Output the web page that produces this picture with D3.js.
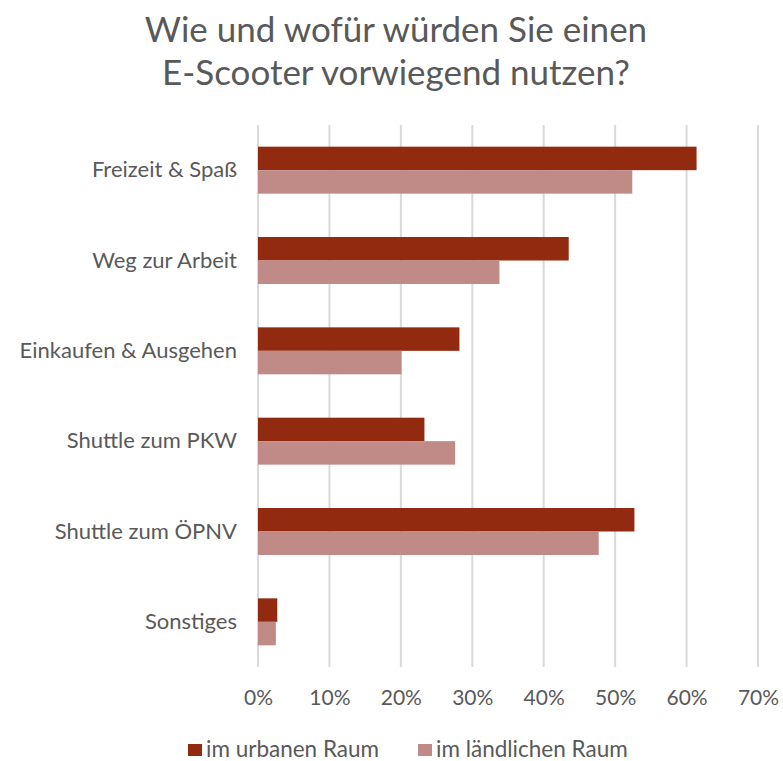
<!DOCTYPE html>
<html>
<head>
<meta charset="utf-8">
<script src="https://cdn.jsdelivr.net/npm/d3@7"></script>
<style>
    body { margin: 0; background: #fff; }
    svg text { font-family: Lato, "Open Sans", sans-serif; fill: #595959; }
</style>
</head>
<body>
<div id="chart"></div>
<script>
(function () {
    'use strict';

    let categories = ['Freizeit & Spaß', 'Weg zur Arbeit', 'Einkaufen & Ausgehen',
        'Shuttle zum PKW', 'Shuttle zum ÖPNV', 'Sonstiges'];
    let seriesNames = ['im urbanen Raum', 'im ländlichen Raum'];
    let urban = [61.4, 43.5, 28.2, 23.3, 52.7, 2.7];
    let rural = [52.4, 33.8, 20.1, 27.6, 47.7, 2.5];
    let ticks = [0, 10, 20, 30, 40, 50, 60, 70];
    let titleLines = ['Wie und wofür würden Sie einen', 'E-Scooter vorwiegend nutzen?'];

    let colors = ['#922a0f', '#c08a87'];

    let width = 783, height = 761;
    let plot = { left: 258, right: 758, top: 125, bottom: 667 };

    let svg = d3.select('#chart').append('svg')
        .attr('width', width)
        .attr('height', height);

    svg.selectAll('.title')
        .data(titleLines)
        .enter().append('text')
        .attr('class', 'title')
        .attr('x', 396)
        .attr('y', function (d, i) { return 42 + i * 43; })
        .attr('text-anchor', 'middle')
        .style('font-size', '35px')
        .text(function (d) { return d; });

    let xScale = d3.scaleLinear()
        .domain([0, 70])
        .range([plot.left, plot.right]);
    let yScale = d3.scaleBand()
        .domain(categories)
        .range([plot.top, plot.bottom])
        .paddingInner(0.48)
        .paddingOuter(0.24);
    let inner = d3.scaleBand()
        .domain(seriesNames)
        .range([0, yScale.bandwidth()]);

    // gridlines
    svg.append('g')
        .selectAll('line')
        .data(ticks)
        .enter().append('line')
        .attr('x1', function (d) { return xScale(d); })
        .attr('x2', function (d) { return xScale(d); })
        .attr('y1', plot.top)
        .attr('y2', plot.bottom)
        .style('stroke', '#d9d9d9')
        .style('stroke-width', 2);

    let xAxis = d3.axisBottom(xScale)
        .tickValues(ticks)
        .tickSize(0)
        .tickPadding(23)
        .tickFormat(function (d) { return d + '%'; });
    let gx = svg.append('g')
        .attr('transform', 'translate(0,' + plot.bottom + ')')
        .call(xAxis);
    gx.select('.domain').remove();
    gx.selectAll('text').style('font-size', '21px').attr('fill', '#595959');

    let yAxis = d3.axisLeft(yScale).tickSize(0).tickPadding(21);
    let gy = svg.append('g')
        .attr('transform', 'translate(' + plot.left + ',0)')
        .call(yAxis);
    gy.select('.domain').remove();
    gy.selectAll('text').style('font-size', '22px').attr('fill', '#595959');

    let rows = categories.map(function (c, i) {
        return { cat: c, values: [urban[i], rural[i]] };
    });

    let groups = svg.append('g')
        .selectAll('g')
        .data(rows)
        .enter().append('g')
        .attr('transform', function (d) { return 'translate(0,' + yScale(d.cat) + ')'; });

    groups.selectAll('rect')
        .data(function (d) {
            return d.values.map(function (v, j) { return { series: seriesNames[j], value: v, idx: j }; });
        })
        .enter().append('rect')
        .attr('x', xScale(0))
        .attr('y', function (d) { return inner(d.series); })
        .attr('width', function (d) { return xScale(d.value) - xScale(0); })
        .attr('height', inner.bandwidth())
        .style('fill', function (d) { return colors[d.idx]; });

    // legend
    let legendX = [188, 418];
    let legend = svg.append('g')
        .selectAll('g')
        .data(seriesNames)
        .enter().append('g')
        .attr('transform', function (d, i) { return 'translate(' + legendX[i] + ',749)'; });
    legend.append('rect')
        .attr('x', 0)
        .attr('y', -5)
        .attr('width', 14)
        .attr('height', 12)
        .style('fill', function (d, i) { return colors[i]; });
    legend.append('text')
        .attr('x', 18)
        .attr('dy', '0.35em')
        .style('font-size', '22.5px')
        .text(function (d) { return d; });
})();
</script>
</body>
</html>
